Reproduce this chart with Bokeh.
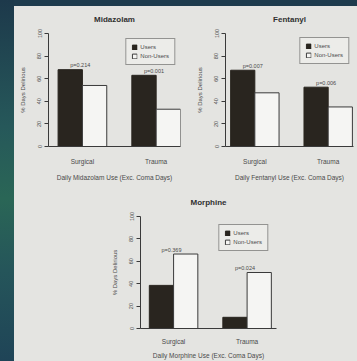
import numpy as np
from bokeh.plotting import figure
from bokeh.models import ColumnDataSource, Range1d, FixedTicker, Div
from bokeh.layouts import row, column
from bokeh.core.properties import value
from bokeh.embed import file_html
from bokeh.resources import INLINE

# ---------------- data ----------------
categories = ["Surgical", "Trauma"]
y_ticks = [0, 20, 40, 60, 80, 100]

midazolam_users = [68, 63]
midazolam_nonusers = [54, 33]
midazolam_p = ["p=0.214", "p=0.001"]

fentanyl_users = [67.5, 52.5]
fentanyl_nonusers = [47.5, 35]
fentanyl_p = ["p=0.007", "p=0.006"]

morphine_users = [38.5, 10]
morphine_nonusers = [66.5, 50]
morphine_p = ["p=0.369", "p=0.024"]

# ---------------- style ----------------
PANEL = "#e4e4e1"
DARK = "#29251f"
WHITE = "#f5f5f3"
INK = "#3a3a3a"
TXT = "#4a4a4a"
FONT = "Liberation Sans"
BW = 0.33


def make_chart(title, users, nonusers, pvals, xlabel, width, height,
               bl, br, bt, bb, lpad, rpad, legend_margin, xs1, xs2):
    n = len(categories)
    xs = np.arange(n, dtype=float)
    p = figure(width=width, height=height, output_backend="svg",
               toolbar_location=None, tools="",
               x_range=Range1d(-lpad, n - 1 + rpad), y_range=Range1d(0, 100),
               min_border_left=bl, min_border_right=br,
               min_border_top=bt, min_border_bottom=bb)
    p.background_fill_color = PANEL
    p.border_fill_color = PANEL
    p.outline_line_color = None
    p.grid.visible = False

    p.title.text = title
    p.title.text_font = FONT
    p.title.text_font_size = "8px"
    p.title.text_font_style = "bold"
    p.title.text_color = "#303030"
    p.title.align = "center"
    p.title.vertical_align = "top"
    p.title.standoff = 16

    src = ColumnDataSource(dict(
        xu=xs - BW / 2, xn=xs + BW / 2,
        users=users, nonusers=nonusers,
        ptop=np.maximum(users, nonusers), pv=pvals))
    p.vbar(x="xu", top="users", width=BW, bottom=0, source=src,
           fill_color=DARK, line_color=DARK, line_width=1, legend_label="Users")
    p.vbar(x="xn", top="nonusers", width=BW, bottom=0, source=src,
           fill_color=WHITE, line_color=INK, line_width=1, legend_label="Non-Users")
    p.text(x="xu", y="ptop", text="pv", source=src, text_align="left",
           text_baseline="bottom", y_offset=-1.5, text_font=value(FONT),
           text_font_size="5.5px", text_color=TXT)

    ya = p.yaxis[0]
    ya.ticker = FixedTicker(ticks=y_ticks)
    ya.minor_tick_line_color = None
    ya.major_tick_in = 0
    ya.major_tick_out = 4
    ya.major_label_orientation = "parallel"
    ya.major_label_text_font = FONT
    ya.major_label_text_font_size = "5.5px"
    ya.major_label_text_color = TXT
    ya.major_label_standoff = 3
    ya.axis_label = "% Days Delirious"
    ya.axis_label_text_font = FONT
    ya.axis_label_text_font_size = "6px"
    ya.axis_label_text_font_style = "normal"
    ya.axis_label_text_color = TXT
    ya.axis_label_standoff = 9
    ya.axis_line_color = INK
    ya.major_tick_line_color = INK

    xa = p.xaxis[0]
    ticks = list(range(n))
    xa.ticker = FixedTicker(ticks=ticks)
    xa.major_label_overrides = {t: c for t, c in zip(ticks, categories)}
    xa.minor_tick_line_color = None
    xa.major_tick_line_color = None
    xa.major_tick_in = 0
    xa.major_tick_out = 0
    xa.major_label_text_font = FONT
    xa.major_label_text_font_size = "6.5px"
    xa.major_label_text_color = TXT
    xa.major_label_standoff = xs1
    xa.axis_label = xlabel
    xa.axis_label_text_font = FONT
    xa.axis_label_text_font_size = "6.5px"
    xa.axis_label_text_font_style = "normal"
    xa.axis_label_text_color = TXT
    xa.axis_label_standoff = xs2
    xa.axis_line_color = INK

    lg = p.legend[0]
    lg.location = "top_right"
    lg.margin = legend_margin
    lg.padding = 5
    lg.spacing = 3
    lg.glyph_width = 6
    lg.glyph_height = 6
    lg.label_height = 6
    lg.label_width = 10
    lg.label_standoff = 3
    lg.label_text_font = FONT
    lg.label_text_font_size = "6px"
    lg.label_text_color = TXT
    lg.border_line_color = INK
    lg.border_line_width = 1
    lg.background_fill_color = "#ecece9"
    lg.background_fill_alpha = 1
    return p


p1 = make_chart("Midazolam", midazolam_users, midazolam_nonusers, midazolam_p,
                "Daily Midazolam Use (Exc. Coma Days)", 168, 183,
                34, 2, 27, 42, 0.46, 0.33, 5, 11, 6)
p2 = make_chart("Fentanyl", fentanyl_users, fentanyl_nonusers, fentanyl_p,
                "Daily Fentanyl Use (Exc. Coma Days)", 175, 183,
                43, 4, 26, 43, 0.40, 0.345, 4, 11, 6)
p3 = make_chart("Morphine", morphine_users, morphine_nonusers, morphine_p,
                "Daily Morphine Use (Exc. Coma Days)", 343, 172,
                126, 81, 27, 32, 0.45, 0.40, 8, 9, 4)

left_strip = Div(text="", width=14, height=361, margin=0,
                 styles={"background": "linear-gradient(180deg, #1d394b 0%, "
                                       "#26585a 35%, #2a6656 55%, #25555a 75%, "
                                       "#1f4457 100%)"})
top_strip = Div(text="", width=343, height=6, margin=0,
                styles={"background-color": "#1e3b4d"})

panel = column(top_strip, row(p1, p2, spacing=0, styles={"background-color": PANEL}),
               p3, spacing=0, styles={"background-color": PANEL})
layout = row(left_strip, panel, spacing=0)

open("out.html", "w").write(file_html(layout, INLINE))
